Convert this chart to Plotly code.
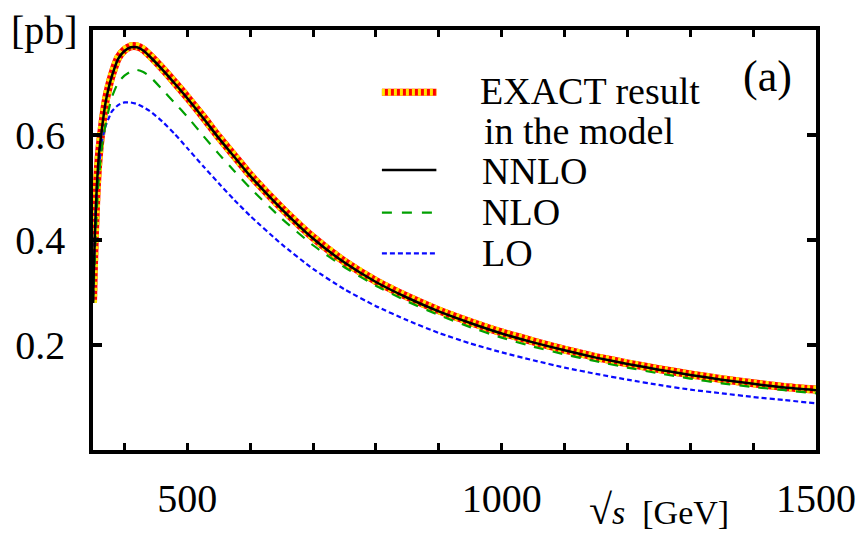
import plotly.graph_objects as go

# sqrt(s) grid [GeV]
sqrt_s = [350, 351, 352, 353, 354, 356, 358, 360, 362.5, 365, 370, 375, 380, 390, 400,
          410, 420, 430, 440, 460, 480, 500, 525, 550, 575, 600, 650, 700, 750, 800,
          850, 900, 950, 1000, 1050, 1100, 1150, 1200, 1250, 1300, 1350, 1400, 1450, 1500]

# cross sections [pb]
nnlo = [0.28, 0.33, 0.37, 0.41, 0.44, 0.50, 0.54, 0.57, 0.595, 0.62, 0.662, 0.69, 0.712,
        0.745, 0.760, 0.767, 0.767, 0.761, 0.750, 0.725, 0.698, 0.670, 0.633, 0.594,
        0.558, 0.522, 0.459, 0.403, 0.357, 0.320, 0.290, 0.264, 0.242, 0.222, 0.205,
        0.190, 0.176, 0.164, 0.153, 0.143, 0.134, 0.126, 0.119, 0.114]
exact = [0.28, 0.33, 0.37, 0.41, 0.44, 0.50, 0.54, 0.57, 0.597, 0.622, 0.664, 0.692, 0.714,
         0.747, 0.762, 0.769, 0.769, 0.763, 0.752, 0.727, 0.700, 0.672, 0.635, 0.596,
         0.560, 0.524, 0.461, 0.405, 0.359, 0.322, 0.292, 0.266, 0.244, 0.224, 0.207,
         0.191, 0.177, 0.165, 0.154, 0.144, 0.135, 0.127, 0.120, 0.115]
nlo = [0.28, 0.31, 0.34, 0.37, 0.40, 0.455, 0.50, 0.527, 0.560, 0.585, 0.620, 0.648, 0.672,
       0.700, 0.713, 0.721, 0.724, 0.720, 0.712, 0.687, 0.661, 0.635, 0.599, 0.564,
       0.531, 0.499, 0.441, 0.390, 0.348, 0.313, 0.283, 0.257, 0.234, 0.214, 0.197,
       0.182, 0.169, 0.157, 0.146, 0.136, 0.127, 0.120, 0.114, 0.108]
lo = [0.28, 0.32, 0.36, 0.41, 0.45, 0.50, 0.525, 0.545, 0.572, 0.592, 0.617, 0.632, 0.645,
      0.657, 0.662, 0.662, 0.659, 0.653, 0.646, 0.626, 0.602, 0.575, 0.541, 0.508,
      0.476, 0.446, 0.392, 0.345, 0.306, 0.274, 0.247, 0.223, 0.203, 0.186, 0.171,
      0.157, 0.145, 0.134, 0.124, 0.115, 0.108, 0.101, 0.095, 0.089]

x_tickvals = [400, 500, 600, 700, 800, 900, 1000, 1100, 1200, 1300, 1400, 1500]
x_ticktext = ["", "500", "", "", "", "", "1000", "", "", "", "", "1500"]
y_tickvals = [0.2, 0.4, 0.6]
y_ticktext = ["0.2", "0.4", "0.6"]

legend_labels = ["EXACT result<br>in the model", "NNLO", "NLO", "LO"]

RED = "#ff0000"
YELLOW = "#ffe600"
GREEN = "#00a000"
BLUE = "#0a0aff"
FONT = "Liberation Serif"

fig = go.Figure()
sp = dict(shape="spline", smoothing=0.5)
fig.add_trace(go.Scatter(x=sqrt_s, y=exact, mode="lines", showlegend=False,
                         line=dict(color=RED, width=8, **sp)))
fig.add_trace(go.Scatter(x=sqrt_s, y=exact, mode="lines", showlegend=False,
                         line=dict(color=YELLOW, width=8, dash="3px,3px", **sp)))
fig.add_trace(go.Scatter(x=sqrt_s, y=lo, mode="lines", showlegend=False,
                         line=dict(color=BLUE, width=2.2, dash="5px,3px", **sp)))
fig.add_trace(go.Scatter(x=sqrt_s, y=nlo, mode="lines", showlegend=False,
                         line=dict(color=GREEN, width=2.2, dash="10px,9px", **sp)))
fig.add_trace(go.Scatter(x=sqrt_s, y=nnlo, mode="lines", showlegend=False,
                         line=dict(color="black", width=2.5, **sp)))

PL, PR, PT, PB = 93.3, 823.3, 30, 450
W, H = 868, 534


def px(x):
    return (x - PL) / (PR - PL)


def py(y):
    return (PB - y) / (PB - PT)


shapes = []
# legend samples
lx0, lx1 = px(385), px(440)
shapes.append(dict(type="line", xref="paper", yref="paper", x0=lx0, x1=lx1, y0=py(92.3), y1=py(92.3),
                   line=dict(color=RED, width=7)))
shapes.append(dict(type="line", xref="paper", yref="paper", x0=lx0, x1=lx1, y0=py(92.3), y1=py(92.3),
                   line=dict(color=YELLOW, width=7, dash="3px,3px")))
shapes.append(dict(type="line", xref="paper", yref="paper", x0=lx0, x1=lx1, y0=py(170), y1=py(170),
                   line=dict(color="black", width=2.5)))
shapes.append(dict(type="line", xref="paper", yref="paper", x0=lx0, x1=lx1, y0=py(212.7), y1=py(212.7),
                   line=dict(color=GREEN, width=2.2, dash="10px,10px")))
shapes.append(dict(type="line", xref="paper", yref="paper", x0=lx0, x1=lx1, y0=py(253.3), y1=py(253.3),
                   line=dict(color=BLUE, width=2.2, dash="5px,3px")))

annotations = []
tf = dict(family=FONT, size=38, color="black")
annotations.append(dict(xref="paper", yref="paper", x=px(482), y=py(91), xanchor="left", yanchor="middle",
                        text="EXACT result", showarrow=False, font=tf))
annotations.append(dict(xref="paper", yref="paper", x=px(486), y=py(131), xanchor="left", yanchor="middle",
                        text="in the model", showarrow=False, font=tf))
for lab, yy in zip(legend_labels[1:], [171, 212, 253]):
    annotations.append(dict(xref="paper", yref="paper", x=px(484), y=py(yy), xanchor="left",
                            yanchor="middle", text=lab, showarrow=False, font=tf))
annotations.append(dict(xref="paper", yref="paper", x=px(774), y=py(76), xanchor="center", yanchor="middle",
                        text="(a)", showarrow=False, font=dict(family=FONT, size=44, color="black")))
annotations.append(dict(xref="paper", yref="paper", x=px(44), y=py(31), xanchor="center", yanchor="middle",
                        text="[pb]", showarrow=False, font=dict(family=FONT, size=40, color="black")))
annotations.append(dict(xref="paper", yref="paper", x=px(592), y=py(510), xanchor="left", yanchor="middle",
                        text="<span style='font-size:42px'>√</span><i>s</i>  [GeV]", showarrow=False,
                        font=dict(family=FONT, size=34, color="black")))

fig.update_layout(
    width=W, height=H,
    margin=dict(l=PL, r=W - PR, t=PT, b=H - PB),
    paper_bgcolor="white", plot_bgcolor="white",
    shapes=shapes, annotations=annotations,
    font=dict(family=FONT, size=40, color="black"),
)
fig.update_xaxes(range=[350, 1500], showgrid=False, zeroline=False,
                 showline=True, linecolor="black", linewidth=3.5, mirror="ticks",
                 ticks="inside", ticklen=7, tickwidth=2.5, tickcolor="black",
                 tickvals=x_tickvals, ticktext=x_ticktext, ticklabelstandoff=10,
                 tickfont=dict(family=FONT, size=40))
fig.update_yaxes(range=[0, 0.8], showgrid=False, zeroline=False,
                 showline=True, linecolor="black", linewidth=3.5, mirror="ticks",
                 ticks="inside", ticklen=9, tickwidth=4, tickcolor="black",
                 tickvals=y_tickvals, ticktext=y_ticktext, ticklabelstandoff=16,
                 tickfont=dict(family=FONT, size=40))

fig.write_html("out.html", config={"displayModeBar": False},
               post_script="document.body.style.margin='0px';")
